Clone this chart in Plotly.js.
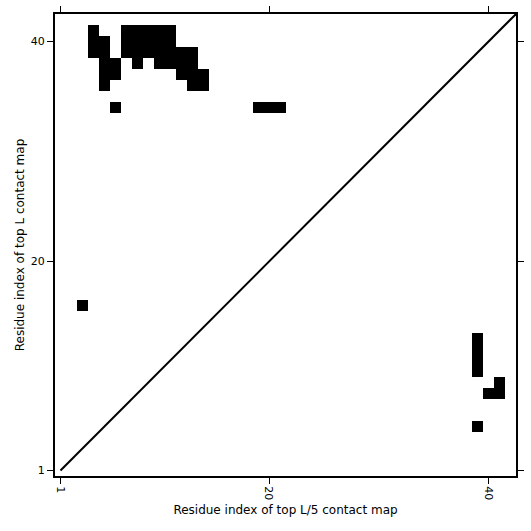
<!DOCTYPE html>
<html>
<head>
<meta charset="utf-8">
<script src="https://cdn.plot.ly/plotly-3.0.1.min.js"></script>
<style>html,body{margin:0;padding:0;background:#fff;}#chart{width:531px;height:531px;}</style>
</head>
<body>
<div id="chart"></div>
<script>
// Sequence length (number of residues)
const seqLength = 42;
// Contacts predicted (residue index pairs): x = top L/5 map index, y = top L map index
const contactX = [4,7,8,9,10,11,
                  4,5,7,8,9,10,11,
                  4,5,7,8,9,10,11,12,13,
                  5,6,8,10,11,12,13,
                  5,6,12,13,14,
                  5,13,14,
                  6,19,20,21,
                  3,
                  39,39,39,39,
                  41,
                  40,41,
                  39];
const contactY = [41,41,41,41,41,41,
                  40,40,40,40,40,40,40,
                  39,39,39,39,39,39,39,39,39,
                  38,38,38,38,38,38,38,
                  37,37,37,37,37,
                  36,36,36,
                  34,34,34,34,
                  16,
                  13,12,11,10,
                  9,
                  8,8,
                  5];
const contactValue = contactX.map(() => 1);
const xTicks = [1, 20, 40];
const yTicks = [1, 20, 40];

const idx = Array.from({length: seqLength}, (_, k) => k + 1);
const z = idx.map(() => idx.map(() => 0));
contactX.forEach((xv, k) => { z[contactY[k] - 1][xv - 1] = contactValue[k]; });

const heat = {
  type: 'heatmap', x: idx, y: idx, z: z,
  zmin: 0, zmax: 1,
  colorscale: [[0, '#ffffff'], [1, '#000000']],
  showscale: false, hoverinfo: 'skip'
};
const diag = {
  type: 'scatter', mode: 'lines',
  x: [1, seqLength + 1], y: [1, seqLength + 1],
  line: {color: '#000', width: 2}, hoverinfo: 'skip', cliponaxis: true
};

const axisCommon = {
  range: [0.5, seqLength + 0.5],
  showgrid: false, zeroline: false,
  showline: true, linecolor: '#000', linewidth: 2, mirror: 'ticks',
  ticks: 'outside', ticklen: 6, tickwidth: 1, tickcolor: '#000',
  tickfont: {family: 'DejaVu Sans', size: 11, color: '#000'}
};

const layout = {
  width: 531, height: 531,
  margin: {l: 55, r: 15, t: 14, b: 55},
  paper_bgcolor: '#fff', plot_bgcolor: '#fff',
  showlegend: false,
  font: {family: 'DejaVu Sans', color: '#000'},
  xaxis: Object.assign({}, axisCommon, {
    tickvals: xTicks, ticktext: xTicks.map(String), tickangle: 90,
    title: {text: 'Residue index of top L/5 contact map', font: {size: 12, family: 'DejaVu Sans'}, standoff: 6}
  }),
  yaxis: Object.assign({}, axisCommon, {
    tickvals: yTicks, ticktext: yTicks.map(String),
    title: {text: 'Residue index of top L contact map', font: {size: 12, family: 'DejaVu Sans'}, standoff: 4}
  })
};

Plotly.newPlot('chart', [heat, diag], layout, {displayModeBar: false, staticPlot: true});
</script>
</body>
</html>
